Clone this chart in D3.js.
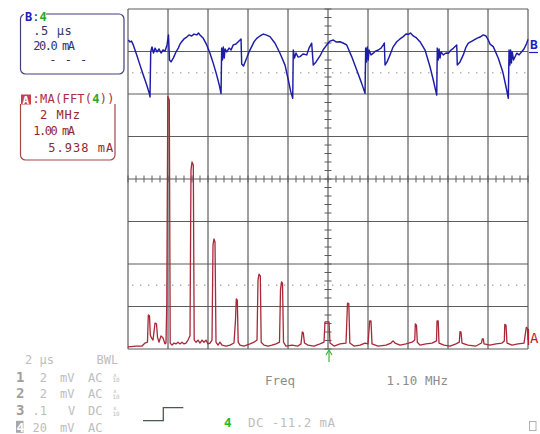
<!DOCTYPE html>
<html><head><meta charset="utf-8">
<script src="https://cdn.jsdelivr.net/npm/d3@7/dist/d3.min.js"></script>
<style>body{margin:0;background:#fff}svg{display:block}text{font-family:"DejaVu Sans Mono",monospace}</style>
</head><body><svg id="c" width="540" height="434"></svg>
<script>
// Trace B: time (us) vs current (mA)
const bTime = [0.004,0.025,0.044,0.066,0.109,0.15,0.191,0.234,0.266,0.275,0.284,0.3,0.319,0.338,0.363,0.388,0.413,0.438,0.463,0.488,0.506,0.519,0.538,0.566,0.6,0.629,0.65,0.671,0.7,0.734,0.763,0.796,0.825,0.859,0.881,0.9,0.941,0.984,1.025,1.066,1.109,1.141,1.163,1.171,1.181,1.191,1.203,1.213,1.234,1.263,1.288,1.316,1.35,1.375,1.4,1.413,1.421,1.444,1.484,1.513,1.546,1.575,1.609,1.65,1.691,1.725,1.775,1.838,1.9,1.963,2.004,2.034,2.059,2.066,2.081,2.1,2.125,2.15,2.188,2.234,2.263,2.296,2.316,2.35,2.4,2.438,2.484,2.525,2.566,2.6,2.65,2.688,2.734,2.796,2.859,2.921,2.963,2.971,2.981,2.991,3.003,3.013,3.038,3.066,3.094,3.129,3.163,3.191,3.204,3.213,3.238,3.275,3.313,3.359,3.4,3.441,3.475,3.504,3.531,3.566,3.606,3.65,3.713,3.775,3.816,3.859,3.866,3.878,3.888,3.9,3.913,3.941,3.975,4.004,4.038,4.066,4.109,4.116,4.15,4.191,4.225,4.254,4.3,4.359,4.4,4.441,4.475,4.504,4.525,4.566,4.629,4.684,4.725,4.754,4.763,4.773,4.783,4.793,4.803,4.819,4.859,4.888,4.921,4.95,4.984,5.0];
const bCurrent = [65.4,64.5,64.9,63.1,58.4,53.6,48.9,44.2,40.3,38.6,59.8,62.1,59.3,61.6,59.8,61.2,59.3,60.7,60.2,63.1,67.8,56.0,55.1,56.9,59.8,61.6,63.5,64.6,65.9,66.8,67.8,67.3,68.2,67.8,68.7,67.8,66.2,63.1,59.2,54.4,48.9,44.2,40.2,61.6,56.0,62.1,56.9,61.2,59.8,61.6,60.7,63.1,63.5,64.5,65.4,65.9,54.1,53.2,56.9,59.8,62.3,64.5,66.2,67.3,68.2,67.8,67.0,63.9,59.2,53.6,46.6,41.1,38.0,60.7,56.9,59.3,57.4,57.6,58.8,58.4,61.6,63.9,53.6,55.1,57.9,60.7,63.1,64.9,65.4,64.5,64.6,64.0,63.1,57.6,51.3,45.0,40.3,61.6,55.1,62.1,56.0,60.7,58.4,59.2,60.2,60.7,61.6,63.1,64.0,53.6,55.1,58.4,62.1,64.6,65.9,67.0,68.2,68.1,68.7,67.3,66.4,64.6,60.7,52.8,46.6,39.5,61.6,56.0,61.2,56.9,59.8,58.4,59.3,59.2,60.7,61.5,63.1,53.6,55.1,58.4,62.1,63.9,64.9,66.2,66.8,67.8,67.3,65.4,63.5,62.3,56.8,50.5,43.4,38.0,60.7,53.6,60.7,54.6,59.8,56.0,59.2,58.4,59.9,61.2,63.9,65.7];
// Trace A: FFT frequency (MHz) vs magnitude (mA)
const aFreq = [0,0.4,0.7,0.85,0.975,1.015,1.075,1.115,1.175,1.25,1.35,1.425,1.475,1.55,1.65,1.75,1.85,1.9,1.94,1.99,2.065,2.11,2.2,2.3,2.4,2.5,2.6,2.7,2.8,2.9,3.0,3.1,3.15,3.2,3.265,3.31,3.4,3.5,3.6,3.7,3.8,3.9,4.0,4.1,4.2,4.25,4.3,4.35,4.4,4.5,4.6,4.7,4.9,5.1,5.3,5.375,5.415,5.465,5.51,5.6,5.8,6.1,6.3,6.45,6.5,6.55,6.615,6.66,6.8,7.0,7.2,7.4,7.575,7.625,7.675,7.725,7.775,7.9,8.2,8.5,8.65,8.715,8.765,8.825,9.0,9.3,9.6,9.8,9.85,10.05,10.1,10.3,10.6,10.9,10.975,11.04,11.09,11.3,11.6,11.85,12.0,12.085,12.15,12.2,12.5,12.9,13.15,13.25,13.35,13.6,13.9,14.2,14.34,14.365,14.425,14.465,14.6,14.9,15.2,15.425,15.45,15.51,15.55,15.8,16.1,16.4,16.565,16.6,16.65,16.7,17.0,17.4,17.675,17.715,17.765,17.8,18.1,18.4,18.7,18.815,18.84,18.9,18.95,19.2,19.5,19.8,19.915,19.975,20.0];
const aMag = [0.05,0.07,0.07,0.14,0.16,0.80,0.78,0.33,0.26,0.21,0.61,0.59,0.28,0.16,0.31,0.26,0.12,0.14,1.08,5.938,5.86,0.14,0.09,0.14,0.12,0.16,0.12,0.16,0.12,0.14,0.21,0.31,4.21,4.40,4.33,0.21,0.16,0.21,0.14,0.21,0.16,0.21,0.12,0.14,0.21,2.45,2.59,2.52,0.16,0.09,0.16,0.09,0.07,0.09,0.14,0.68,1.18,1.15,0.16,0.09,0.07,0.12,0.16,0.21,1.62,1.76,1.72,0.16,0.09,0.07,0.09,0.12,0.16,1.39,1.58,1.55,0.16,0.07,0.09,0.07,0.12,0.40,0.38,0.14,0.09,0.07,0.12,0.16,0.64,0.64,0.14,0.07,0.12,0.14,1.08,1.07,0.14,0.07,0.09,0.14,0.12,0.66,0.66,0.12,0.07,0.09,0.14,0.19,0.14,0.09,0.12,0.16,0.21,0.59,0.56,0.16,0.09,0.12,0.14,0.19,0.66,0.66,0.14,0.09,0.07,0.12,0.16,0.41,0.40,0.14,0.09,0.07,0.14,0.24,0.24,0.12,0.09,0.12,0.14,0.19,0.58,0.56,0.14,0.09,0.12,0.14,0.51,0.49,0.21];
// Labels
const boxBLines = [".5 \u03bcs", "20.0 mA", "- - -"];
const boxALines = ["2 MHz", "1.00 mA", "5.938 mA"];
const chanNums = ["1","2","3","4"];
const chanScale = ["2","2",".1","20"];
const chanUnit = ["mV","mV","V","mV"];
const chanCpl = ["AC","AC","DC","AC"];
const chanX10 = [true,true,true,false];

const svg = d3.select("#c");
const L=128,R=528,T=9,B=349;
const xT = d3.scaleLinear().domain([0,5]).range([L,R]);
const yB = d3.scaleLinear().domain([-80,80]).range([B,T]);
const xF = d3.scaleLinear().domain([0,20]).range([L,R]);
const yA = d3.scaleLinear().domain([0,8]).range([B,T]);

const grid = svg.append("g");
const gridColor = "#5c5c5c";
// dotted reference lines
[-50,50].forEach(v=>{
  grid.append("line").attr("x1",L).attr("x2",R).attr("y1",yB(v)).attr("y2",yB(v))
    .attr("stroke","#b0b0b0").attr("stroke-width",1.4).attr("stroke-dasharray","1.4,6.6").attr("stroke-dashoffset",-4);
});
d3.range(0,5.001,0.5).forEach(t=>{
  grid.append("line").attr("x1",xT(t)).attr("x2",xT(t)).attr("y1",T).attr("y2",B)
    .attr("stroke",gridColor).attr("stroke-width",1.2);
});
d3.range(-80,80.001,20).forEach(v=>{
  grid.append("line").attr("x1",L).attr("x2",R).attr("y1",yB(v)).attr("y2",yB(v))
    .attr("stroke",gridColor).attr("stroke-width",1.2);
});
// minor ticks on centre axes
d3.range(0,5.001,0.1).forEach(t=>{
  grid.append("line").attr("x1",xT(t)).attr("x2",xT(t)).attr("y1",yB(0)-3.5).attr("y2",yB(0)+3.5)
    .attr("stroke",gridColor).attr("stroke-width",1);
});
d3.range(-80,80.001,4).forEach(v=>{
  grid.append("line").attr("x1",xT(2.5)-3.5).attr("x2",xT(2.5)+3.5).attr("y1",yB(v)).attr("y2",yB(v))
    .attr("stroke",gridColor).attr("stroke-width",1);
});

// Spectrum trace A
const aData = d3.zip(aFreq,aMag);
svg.append("path").datum(aData)
  .attr("d",d3.line().x(d=>xF(d[0])).y(d=>yA(d[1])))
  .attr("fill","none").attr("stroke","#a82838").attr("stroke-width",1.3).attr("stroke-linejoin","round");

// Time trace B
const bData = d3.zip(bTime,bCurrent);
svg.append("path").datum(bData)
  .attr("d",d3.line().x(d=>xT(d[0])).y(d=>yB(d[1])))
  .attr("fill","none").attr("stroke","#1c1ca6").attr("stroke-width",1.45).attr("stroke-linejoin","round");

// right-side trace markers
svg.append("text").attr("x",530).attr("y",49).attr("font-size",13).attr("font-weight","bold")
  .attr("fill","#1e1ec0").text("B");
svg.append("line").attr("x1",529).attr("x2",538).attr("y1",52.5).attr("y2",52.5).attr("stroke","#1e1ec0").attr("stroke-width",1.2);
svg.append("text").attr("x",530).attr("y",343).attr("font-size",14).attr("fill","#c01830").text("A");
svg.append("line").attr("x1",528.5).attr("x2",528.5).attr("y1",329).attr("y2",345).attr("stroke","#c01830").attr("stroke-width",1.2);

// trigger arrow
const ax = xF(10.05);
svg.append("line").attr("x1",ax).attr("x2",ax).attr("y1",351).attr("y2",362).attr("stroke","#3cb43c").attr("stroke-width",1.2);
svg.append("path").attr("d",`M${ax-3},355 L${ax},350 L${ax+3},355`).attr("fill","none").attr("stroke","#3cb43c").attr("stroke-width",1.2);

// Box B
svg.append("rect").attr("x",20.5).attr("y",14).attr("width",103.5).attr("height",60).attr("rx",5)
  .attr("fill","none").attr("stroke","#40407a").attr("stroke-width",1.2);
svg.append("rect").attr("x",24).attr("y",9).attr("width",22).attr("height",10).attr("fill","#fff");
const lb = svg.append("text").attr("x",25).attr("y",21).attr("font-size",12).attr("font-weight","bold");
lb.append("tspan").attr("fill","#2020b0").text("B");
lb.append("tspan").attr("fill","#2020b0").attr("font-weight","normal").text(":");
lb.append("tspan").attr("fill","#22aa22").text("4");
const bPos = [[33.3,35,38.4],[33.3,50,41.7],[49.3,64,38]];
boxBLines.forEach((s,i)=>{
  svg.append("text").attr("x",bPos[i][0]).attr("y",bPos[i][1]).attr("font-size",12)
    .attr("textLength",bPos[i][2]).attr("lengthAdjust","spacing").attr("fill","#34346a").text(s);
});

// Box A
svg.append("rect").attr("x",20.5).attr("y",94).attr("width",94.5).attr("height",66).attr("rx",5)
  .attr("fill","none").attr("stroke","#a04848").attr("stroke-width",1.2);
svg.append("rect").attr("x",20).attr("y",90).attr("width",96).attr("height",14).attr("fill","#fff");
svg.append("rect").attr("x",21).attr("y",94.5).attr("width",10).attr("height",10).attr("fill","#c84050");
svg.append("text").attr("x",22.5).attr("y",103.5).attr("font-size",11).attr("font-weight","bold").attr("fill","#fff").text("A");
const la = svg.append("text").attr("x",32.5).attr("y",103).attr("font-size",12).attr("textLength",82).attr("lengthAdjust","spacing");
la.append("tspan").attr("fill","#a83040").text(":MA(FFT(");
la.append("tspan").attr("fill","#22aa22").attr("font-weight","bold").text("4");
la.append("tspan").attr("fill","#a83040").text("))");
const aPos = [[40,119,40],[33.3,135,41.7],[48.3,151.5,65]];
boxALines.forEach((s,i)=>{
  svg.append("text").attr("x",aPos[i][0]).attr("y",aPos[i][1]).attr("font-size",12)
    .attr("textLength",aPos[i][2]).attr("lengthAdjust","spacing").attr("fill","#8e2a30").text(s);
});

// Bottom status
const gray = "#bdbdbd";
svg.append("text").attr("x",25).attr("y",364).attr("font-size",12).attr("fill",gray).text("2 \u03bcs");
svg.append("text").attr("x",96.5).attr("y",364).attr("font-size",12).attr("fill",gray).text("BWL");
chanNums.forEach((n,i)=>{
  const y = 381.7 + i*16.7;
  if(i===3){
    svg.append("rect").attr("x",16).attr("y",y-11).attr("width",7.5).attr("height",12).attr("fill","#a8a8a8");
    svg.append("text").attr("x",16.5).attr("y",y).attr("font-size",13).attr("font-weight","bold").attr("fill","#fff").text(n);
  } else {
    svg.append("text").attr("x",16).attr("y",y).attr("font-size",14).attr("font-weight","bold").attr("fill","#a0a0a0").text(n);
  }
  svg.append("text").attr("x",47).attr("y",y).attr("text-anchor","end").attr("font-size",12).attr("fill",gray).text(chanScale[i]);
  svg.append("text").attr("x",i===2?68:60).attr("y",y).attr("font-size",12).attr("fill",gray).text(chanUnit[i]);
  svg.append("text").attr("x",88).attr("y",y).attr("font-size",12).attr("fill",gray).text(chanCpl[i]);
  if(chanX10[i]){
    svg.append("text").attr("x",113).attr("y",y-5).attr("font-size",6).attr("fill",gray).text("x");
    svg.append("text").attr("x",112.5).attr("y",y+0.5).attr("font-size",6).attr("fill",gray).text("10");
  }
});
svg.append("path").attr("d","M143,420.7 H163.3 V407.7 H183.3").attr("fill","none").attr("stroke","#4a5a4a").attr("stroke-width",1.3);
svg.append("text").attr("x",224).attr("y",427).attr("font-size",12.5).attr("font-weight","bold").attr("fill","#22bb22").text("4");
svg.append("text").attr("x",248).attr("y",427).attr("font-size",12.5).attr("fill",gray).attr("textLength",87).attr("lengthAdjust","spacing").text("DC -11.2 mA");
svg.append("text").attr("x",265).attr("y",385).attr("font-size",12.5).attr("fill","#8c8c8c").text("Freq");
svg.append("text").attr("x",386.5).attr("y",385).attr("font-size",12.5).attr("fill","#8c8c8c").attr("textLength",61.5).attr("lengthAdjust","spacing").text("1.10 MHz");
svg.append("rect").attr("x",529.5).attr("y",421.5).attr("width",6.5).attr("height",9).attr("fill","none").attr("stroke","#b0b0b0").attr("stroke-width",1);
</script></body></html>
